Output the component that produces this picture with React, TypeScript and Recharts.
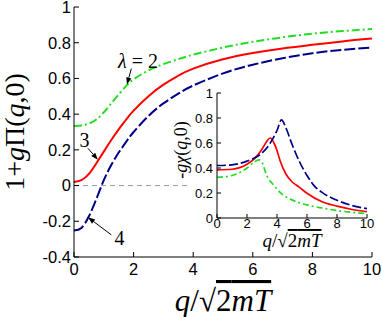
import React from 'react';
import { LineChart, Line, XAxis, YAxis, ReferenceLine, ReferenceDot } from 'recharts';

// ---- main panel data: 1 + g Pi(q,0) ----
const mainQ = [0, 0.25, 0.5, 0.75, 1, 1.25, 1.5, 1.75, 2, 2.5, 3, 3.5, 4, 5, 6, 7, 8, 9, 10];
const mainLambda2 = [0.334, 0.337, 0.347, 0.37, 0.41, 0.46, 0.51, 0.558, 0.595, 0.645, 0.68, 0.708, 0.733, 0.773, 0.805, 0.83, 0.851, 0.865, 0.877];
const mainLambda3 = [0.02, 0.03, 0.065, 0.125, 0.19, 0.255, 0.315, 0.37, 0.42, 0.5, 0.565, 0.615, 0.655, 0.707, 0.742, 0.768, 0.788, 0.807, 0.823];
const mainLambda4 = [-0.252, -0.237, -0.172, -0.075, 0.03, 0.115, 0.185, 0.245, 0.3, 0.39, 0.46, 0.515, 0.56, 0.628, 0.677, 0.713, 0.741, 0.76, 0.773];

// ---- inset data: -g chi(q,0) ----
const insetQ2 = [0, 1, 2, 2.5, 2.8, 3, 3.3, 3.8, 4.3, 5, 6, 7, 8, 9, 10];
const insetLambda2 = [0.325, 0.34, 0.4, 0.45, 0.465, 0.445, 0.345, 0.26, 0.195, 0.145, 0.105, 0.08, 0.06, 0.045, 0.035];
const insetQ3 = [0, 1, 2, 2.5, 3, 3.3, 3.55, 3.8, 4, 4.2, 4.6, 5, 5.5, 6, 7, 8, 9, 10];
const insetLambda3 = [0.385, 0.39, 0.43, 0.475, 0.55, 0.61, 0.64, 0.6, 0.54, 0.46, 0.35, 0.29, 0.245, 0.198, 0.13, 0.095, 0.068, 0.05];
const insetQ4 = [0, 1, 2, 2.5, 3, 3.5, 4, 4.3, 4.6, 5, 5.5, 6, 6.5, 7, 8, 9, 10];
const insetLambda4 = [0.42, 0.425, 0.455, 0.48, 0.52, 0.59, 0.7, 0.785, 0.72, 0.59, 0.45, 0.34, 0.255, 0.205, 0.142, 0.1, 0.075];

// ---- ticks ----
const xTicks = [0, 2, 4, 6, 8, 10];
const mainYTicks = [-0.4, -0.2, 0, 0.2, 0.4, 0.6, 0.8, 1];
const insetYTicks = [0, 0.2, 0.4, 0.6, 0.8, 1];

// ---- annotations (data coordinates) ----
const labelLambda2 = { x: 2.15, y: 0.659, text: '2' };
const arrowLambda2 = [{ x: 1.925, y: 0.655 }, { x: 1.777, y: 0.566 }];
const labelLambda3 = { x: 0.356, y: 0.217, text: '3' };
const arrowLambda3 = [{ x: 0.467, y: 0.209 }, { x: 0.8, y: 0.145 }];
const labelLambda4 = { x: 1.53, y: -0.332, text: '4' };
const arrowLambda4 = [{ x: 1.253, y: -0.276 }, { x: 0.47, y: -0.178 }];

const mainData = mainQ.map((q, i) => ({ q, l2: mainLambda2[i], l3: mainLambda3[i], l4: mainLambda4[i] }));
const inset2 = insetQ2.map((q, i) => ({ q, v: insetLambda2[i] }));
const inset3 = insetQ3.map((q, i) => ({ q, v: insetLambda3[i] }));
const inset4 = insetQ4.map((q, i) => ({ q, v: insetLambda4[i] }));

const GREEN = '#22dd22';
const RED = '#ff0000';
const BLUE = '#000088';
const SANS = '"Liberation Sans", Arial, sans-serif';
const SERIF = '"Liberation Serif", "Times New Roman", serif';

const fmt = (v: number) => String(v);
const blank = () => '';

const Arrow = (p: any) => {
  const { x1, y1, x2, y2 } = p;
  const ang = Math.atan2(y2 - y1, x2 - x1);
  const L = 7, W = 2.6;
  const bx = x2 - L * Math.cos(ang);
  const by = y2 - L * Math.sin(ang);
  const px = -Math.sin(ang) * W;
  const py = Math.cos(ang) * W;
  return (
    <g>
      <line x1={x1} y1={y1} x2={bx} y2={by} stroke="#000" strokeWidth={1} />
      <polygon points={`${x2},${y2} ${bx + px},${by + py} ${bx - px},${by - py}`} fill="#000" />
    </g>
  );
};

const TextMark = (content: React.ReactNode) => (p: any) => (
  <text x={p.cx} y={p.cy} textAnchor="middle" fontFamily={SERIF} fontSize={20} fill="#000">
    {content}
  </text>
);

const MainYLabel = (p: any) => {
  const vb = p.viewBox || { x: 0, y: 7, width: 74, height: 250 };
  const cy = vb.y + vb.height / 2;
  return (
    <text transform={`translate(24, ${cy}) rotate(-90)`} textAnchor="middle" fontFamily={SERIF} fontSize={28} fill="#000">
      1+<tspan fontStyle="italic">g</tspan>Π(<tspan fontStyle="italic">q</tspan>,0)
    </text>
  );
};

const MainXLabel = (p: any) => {
  const vb = p.viewBox || { x: 74, y: 257, width: 298, height: 60 };
  const cx = vb.x + vb.width / 2;
  return (
    <text x={cx} y={311} textAnchor="middle" fontFamily={SERIF} fontSize={31} fill="#000">
      <tspan fontStyle="italic">q</tspan>/√<tspan style={{ textDecoration: 'overline' }}>2<tspan fontStyle="italic">mT</tspan></tspan>
    </text>
  );
};

const InsetYLabel = () => (
  <text transform="translate(21, 66) rotate(-90)" textAnchor="middle" fontFamily={SERIF} fontSize={18} fill="#000">
    -<tspan fontStyle="italic">gχ</tspan>(<tspan fontStyle="italic">q</tspan>,0)
  </text>
);

const InsetXLabel = (p: any) => {
  const vb = p.viewBox || { x: 51, y: 134, width: 150, height: 36 };
  const cx = vb.x + vb.width / 2;
  return (
    <text x={cx} y={163} textAnchor="middle" fontFamily={SERIF} fontSize={19} fill="#000">
      <tspan fontStyle="italic">q</tspan>/√<tspan style={{ textDecoration: 'overline' }}>2<tspan fontStyle="italic">mT</tspan></tspan>
    </text>
  );
};

export default function App() {
  const tickMain = { fill: '#000', fontSize: 16.5, fontFamily: SANS };
  const tickInset = { fill: '#000', fontSize: 13, fontFamily: SANS };
  const axisStroke = { stroke: '#000', strokeWidth: 1 };
  return (
    <div style={{ position: 'absolute', left: 0, top: 0, width: 382, height: 317, background: '#fff' }}>
      <div style={{ position: 'absolute', left: 0, top: 0 }}>
        <LineChart width={382} height={317} data={mainData} margin={{ top: 7, right: 10, bottom: 0, left: 0 }}>
          <XAxis dataKey="q" type="number" domain={[0, 10]} ticks={xTicks} interval={0} height={60}
            tickSize={-5} tickMargin={11} tick={tickMain} tickFormatter={fmt}
            axisLine={axisStroke} tickLine={axisStroke} label={<MainXLabel />} />
          <XAxis xAxisId="top" orientation="top" dataKey="q" type="number" domain={[0, 10]} ticks={xTicks} interval={0} height={0}
            tickSize={-5} tickFormatter={blank} axisLine={axisStroke} tickLine={axisStroke} />
          <YAxis type="number" domain={[-0.4, 1]} ticks={mainYTicks} interval={0} width={74}
            tickSize={-5} tickMargin={8} tick={tickMain} tickFormatter={fmt}
            axisLine={axisStroke} tickLine={axisStroke} label={<MainYLabel />} />
          <YAxis yAxisId="right" orientation="right" type="number" domain={[-0.4, 1]} ticks={mainYTicks} interval={0} width={0}
            tickSize={-5} tickFormatter={blank} axisLine={axisStroke} tickLine={axisStroke} />
          <ReferenceLine segment={[{ x: 0, y: 0 }, { x: 3.9, y: 0 }]} stroke="#999" strokeDasharray="5 4" strokeWidth={1} />
          <Line dataKey="l2" type="natural" stroke={GREEN} strokeWidth={2} strokeDasharray="8 3 2 3" dot={false} isAnimationActive={false} />
          <Line dataKey="l3" type="natural" stroke={RED} strokeWidth={2} dot={false} isAnimationActive={false} />
          <Line dataKey="l4" type="natural" stroke={BLUE} strokeWidth={2} strokeDasharray="11 3" dot={false} isAnimationActive={false} />
          <ReferenceLine segment={arrowLambda2} shape={Arrow} />
          <ReferenceLine segment={arrowLambda3} shape={Arrow} />
          <ReferenceLine segment={arrowLambda4} shape={Arrow} />
          <ReferenceDot x={labelLambda2.x} y={labelLambda2.y} r={0}
            shape={TextMark(<><tspan fontStyle="italic">λ</tspan> = {labelLambda2.text}</>)} />
          <ReferenceDot x={labelLambda3.x} y={labelLambda3.y} r={0} shape={TextMark(labelLambda3.text)} />
          <ReferenceDot x={labelLambda4.x} y={labelLambda4.y} r={0} shape={TextMark(labelLambda4.text)} />
        </LineChart>
      </div>
      <div style={{ position: 'absolute', left: 166, top: 84 }}>
        <LineChart width={216} height={170} margin={{ top: 9, right: 15, bottom: 0, left: 0 }}>
          <XAxis dataKey="q" type="number" domain={[0, 10]} ticks={xTicks} interval={0} height={36}
            tickSize={-4} tickMargin={5} tick={tickInset} tickFormatter={fmt}
            axisLine={axisStroke} tickLine={axisStroke} label={<InsetXLabel />} />
          <XAxis xAxisId="top" orientation="top" dataKey="q" type="number" domain={[0, 10]} ticks={xTicks} interval={0} height={0}
            tickSize={-4} tickFormatter={blank} axisLine={axisStroke} tickLine={axisStroke} />
          <YAxis type="number" domain={[0, 1]} ticks={insetYTicks} interval={0} width={51}
            tickSize={-4} tickMargin={8} tick={tickInset} tickFormatter={fmt}
            axisLine={axisStroke} tickLine={axisStroke} label={<InsetYLabel />} />
          <YAxis yAxisId="right" orientation="right" type="number" domain={[0, 1]} ticks={insetYTicks} interval={0} width={0}
            tickSize={-4} tickFormatter={blank} axisLine={axisStroke} tickLine={axisStroke} />
          <Line data={inset2} dataKey="v" type="monotone" stroke={GREEN} strokeWidth={1.7} strokeDasharray="6 3 2 3" dot={false} isAnimationActive={false} />
          <Line data={inset3} dataKey="v" type="monotone" stroke={RED} strokeWidth={1.7} dot={false} isAnimationActive={false} />
          <Line data={inset4} dataKey="v" type="monotone" stroke={BLUE} strokeWidth={1.7} strokeDasharray="9 3" dot={false} isAnimationActive={false} />
        </LineChart>
      </div>
    </div>
  );
}
